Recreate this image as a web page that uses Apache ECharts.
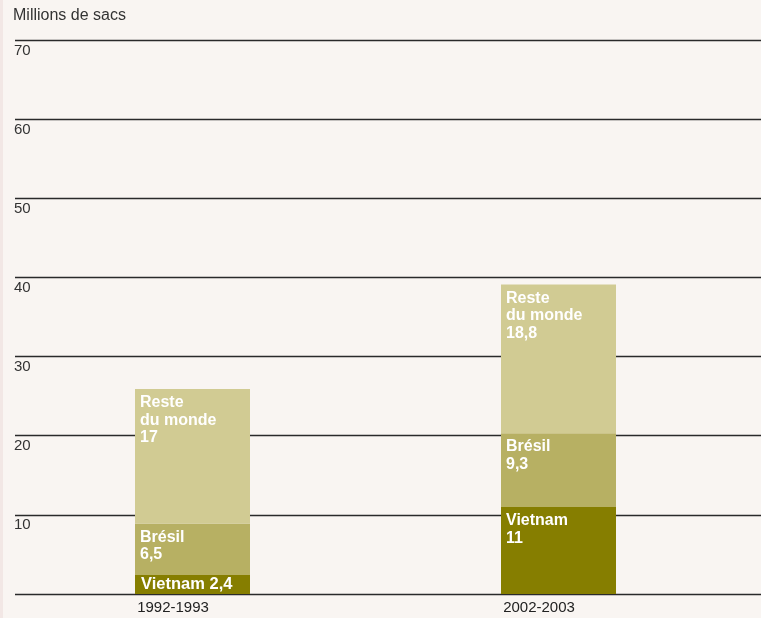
<!DOCTYPE html>
<html>
<head>
<meta charset="utf-8">
<script src="https://cdn.jsdelivr.net/npm/echarts@6/dist/echarts.min.js"></script>
<style>
html,body{margin:0;padding:0;background:#f9f5f2;}
#chart{width:761px;height:618px;}
</style>
</head>
<body>
<div id="chart"></div>
<script>
const categories = ['1992-1993', '2002-2003'];
const vietnam = [2.4, 11];
const bresil = [6.5, 9.3];
const reste = [17, 18.8];
const yTicks = [0, 10, 20, 30, 40, 50, 60, 70];
const vietnamSep = [' ', '\n'];

const fmt = v => String(v).replace('.', ',');
const chart = echarts.init(document.getElementById('chart'), null, {renderer: 'canvas'});
const FONT = '"Liberation Sans", Arial, Helvetica, sans-serif';
const lbl = {
  show: true,
  color: '#ffffff',
  fontFamily: FONT,
  fontWeight: 'bold',
  fontSize: 16,
  lineHeight: 17.5,
  position: 'insideTopLeft',
  distance: 5,
  offset: [0, 0],
  align: 'left'
};
chart.setOption({
  backgroundColor: '#f9f5f2',
  animation: false,
  graphic: [
    {type: 'rect', left: 0, top: 0, shape: {width: 3, height: 618}, style: {fill: '#f2e7e5'}, silent: true},
    {type: 'text', left: 13, top: 8, style: {text: 'Millions de sacs', fill: '#333', font: '16px ' + FONT}}
  ],
  grid: [
    {left: 15, right: 0, top: 40, bottom: 24},
    {left: 9.5, width: 732, top: 40, bottom: 24}
  ],
  xAxis: [
    {gridIndex: 0, type: 'value', show: false},
    {gridIndex: 1, type: 'category', data: categories,
     axisLine: {show: false}, axisTick: {show: false},
     axisLabel: {color: '#222', fontSize: 15, fontFamily: FONT, margin: 6, padding: [0, 39, 0, 0]}}
  ],
  yAxis: [
    {gridIndex: 0, type: 'value', min: yTicks[0], max: yTicks[yTicks.length - 1], interval: 10,
     axisLine: {show: false}, axisTick: {show: false},
     splitLine: {show: true, lineStyle: {color: '#2a2a2a', width: 1.3}},
     axisLabel: {inside: true, margin: -1, align: 'left', verticalAlign: 'top', padding: [3, 0, 0, 0],
       color: '#333', fontSize: 15, fontFamily: FONT,
       formatter: v => (v === 0 ? '' : String(v))}},
    {gridIndex: 1, type: 'value', min: 0, max: 70, interval: 10, show: false}
  ],
  series: [
    {name: 'Vietnam', type: 'bar', stack: 's', xAxisIndex: 1, yAxisIndex: 1, barWidth: 115,
     data: vietnam.map((v, i) => ({value: v, label: i === 0 ? {position: 'insideLeft', offset: [1, 0], fontSize: 16.5} : {}})),
     itemStyle: {color: '#867e00'},
     label: Object.assign({}, lbl, {formatter: p => 'Vietnam' + vietnamSep[p.dataIndex] + fmt(p.value)})},
    {name: 'Brésil', type: 'bar', stack: 's', xAxisIndex: 1, yAxisIndex: 1, barWidth: 115,
     data: bresil, itemStyle: {color: '#b7b063'},
     label: Object.assign({}, lbl, {formatter: p => 'Brésil\n' + fmt(p.value)})},
    {name: 'Reste du monde', type: 'bar', stack: 's', xAxisIndex: 1, yAxisIndex: 1, barWidth: 115,
     data: reste, itemStyle: {color: '#d1cb93'},
     label: Object.assign({}, lbl, {formatter: p => 'Reste\ndu monde\n' + fmt(p.value)})}
  ]
});
</script>
</body>
</html>
